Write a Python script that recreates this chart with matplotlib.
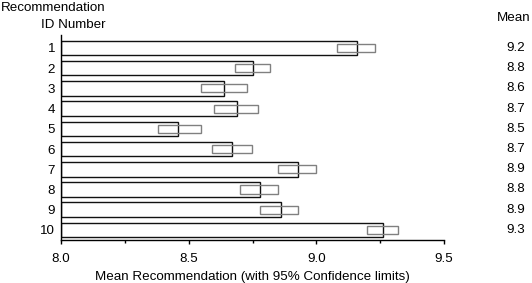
import matplotlib.pyplot as plt
import matplotlib.transforms as mtransforms
import numpy as np

plt.rcParams['font.family'] = ['Liberation Sans', 'DejaVu Sans']

# Recommendation IDs, means and 95% confidence limits
ids = ["1", "2", "3", "4", "5", "6", "7", "8", "9", "10"]
means = [9.16, 8.75, 8.64, 8.69, 8.46, 8.67, 8.93, 8.78, 8.86, 9.26]
lower = [9.08, 8.68, 8.55, 8.60, 8.38, 8.59, 8.85, 8.70, 8.78, 9.20]
upper = [9.23, 8.82, 8.73, 8.77, 8.55, 8.75, 9.00, 8.85, 8.93, 9.32]
mean_labels = ["9.2", "8.8", "8.6", "8.7", "8.5", "8.7", "8.9", "8.8", "8.9", "9.3"]

W, H = 532, 283
fig = plt.figure(figsize=(W / 100, H / 100), dpi=100)
ax = fig.add_axes([61 / W, (H - 240) / H, (444 - 61) / W, (240 - 35) / H])

y = np.arange(1, len(ids) + 1)
base = 8.0
ax.barh(y, np.array(means) - base, left=base, height=0.72,
        color="white", edgecolor="#111111", linewidth=1.0, zorder=2)
ax.barh(y, np.array(upper) - np.array(lower), left=lower, height=0.4,
        fill=False, edgecolor="#808080", linewidth=1.0, zorder=3)

ax.set_xlim(8.0, 9.5)
ax.set_ylim(10.5, 0.36)
ax.set_xticks([8.0, 8.5, 9.0, 9.5])
ax.set_xticklabels(["8.0", "8.5", "9.0", "9.5"])
ax.set_xticks([8.25, 8.75, 9.25], minor=True)
ax.set_yticks(y)
ax.set_yticklabels(ids)
ax.tick_params(axis="y", length=0, pad=4.3, labelsize=9.6)
ax.tick_params(axis="x", which="major", length=3, width=1, pad=6, labelsize=9.6)
ax.tick_params(axis="x", which="minor", length=2.3, width=1)
for s in ["top", "right"]:
    ax.spines[s].set_visible(False)
ax.spines["left"].set_linewidth(1)
ax.spines["bottom"].set_linewidth(1)

ax.set_xlabel("Mean Recommendation (with 95% Confidence limits)", fontsize=9.6, labelpad=4.5)

# header texts
fig.text(105 / W, 1 - 11 / H, "Recommendation", ha="right", va="baseline", fontsize=9.6)
fig.text(106 / W, 1 - 28 / H, "ID Number", ha="right", va="baseline", fontsize=9.6)
fig.text(530 / W, 1 - 21 / H, "Mean", ha="right", va="baseline", fontsize=9.6)

# mean values on the right
trans = mtransforms.blended_transform_factory(fig.transFigure, ax.transData)
for yi, lab in zip(y, mean_labels):
    ax.text(506 / W, yi, lab, transform=trans, ha="left", va="center", fontsize=9.6)

fig.savefig("out.png", dpi=100)
